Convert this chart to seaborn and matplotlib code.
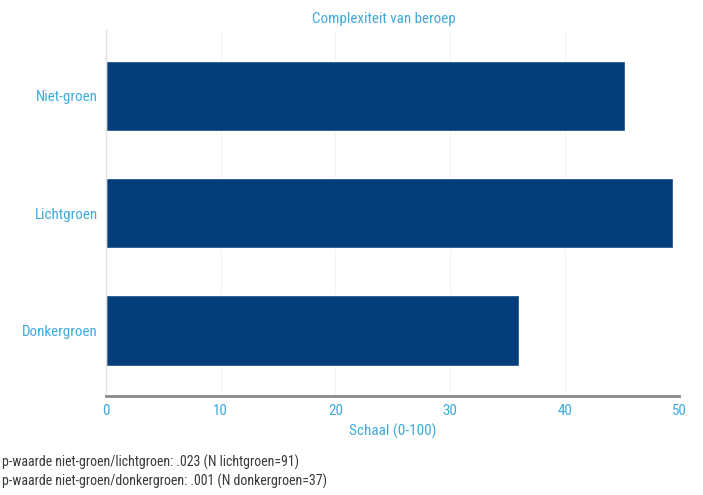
import matplotlib
matplotlib.use("Agg")
import matplotlib.pyplot as plt
import seaborn as sns
import pandas as pd
from matplotlib import font_manager

categories = ["Niet-groen", "Lichtgroen", "Donkergroen"]
values = [45.3, 49.5, 36.0]
x_ticks = [0, 10, 20, 30, 40, 50]
title = "Complexiteit van beroep"
xlabel = "Schaal (0-100)"
notes = ["p-waarde niet-groen/lichtgroen: .023 (N lichtgroen=91)",
         "p-waarde niet-groen/donkergroen: .001 (N donkergroen=37)"]

sns.set_theme(style="white")
names = {f.name for f in font_manager.fontManager.ttflist}
fam = "DejaVu Sans"
for cand in ["Roboto Condensed", "Liberation Sans Narrow", "Open Sans Condensed"]:
    if cand in names:
        fam = cand
        break
plt.rcParams["font.family"] = [fam, "DejaVu Sans"]
plt.rcParams["font.stretch"] = "condensed"

blue_txt = "#3fa9dc"
bar_col = "#043e7a"

df = pd.DataFrame({"cat": categories, "val": values})
fig = plt.figure(figsize=(7.03, 4.95), dpi=100)
ax = fig.add_axes([0.151, 0.2, 0.815, 0.739])
sns.barplot(data=df, y="cat", x="val", order=categories, color=bar_col,
            saturation=1, width=0.6, ax=ax)
ax.set_xlim(0, 50)
ax.set_ylim(2.56, -0.56)
ax.set_xticks(x_ticks)
ax.set_xticklabels([str(t) for t in x_ticks])
ax.xaxis.grid(True, color="#f3f3f3", linewidth=0.8)
ax.set_axisbelow(True)
for s in ["top", "right"]:
    ax.spines[s].set_visible(False)
ax.spines["bottom"].set_color("#8a8a8a")
ax.spines["bottom"].set_linewidth(2)
ax.spines["left"].set_color("#e0e0e0")
ax.spines["left"].set_linewidth(1)
ax.tick_params(axis="both", colors=blue_txt, labelsize=10.8, length=0, pad=6)
ax.set_ylabel("")
ax.set_xlabel(xlabel, color=blue_txt, fontsize=11, labelpad=4)
fig.text(0.546, 0.962, title, color=blue_txt, fontsize=10.8, ha="center", va="center")
fig.text(0.003, 0.065, notes[0], color="#3a3a3a", fontsize=10, ha="left", va="center")
fig.text(0.003, 0.028, notes[1], color="#3a3a3a", fontsize=10, ha="left", va="center")
fig.savefig("out.png", dpi=100)
